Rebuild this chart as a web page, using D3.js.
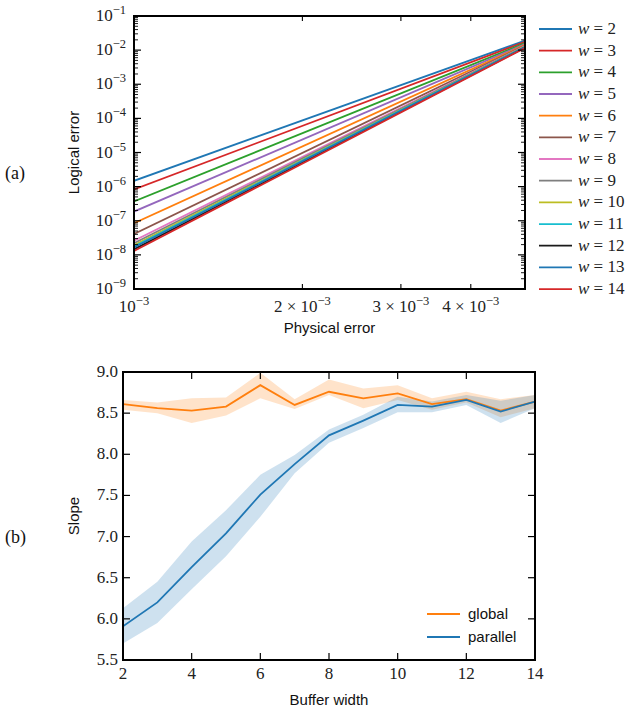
<!DOCTYPE html>
<html><head><meta charset="utf-8">
<script src="https://cdn.jsdelivr.net/npm/d3@7"></script>
<style>body{margin:0;background:#fff}svg{display:block}</style>
</head><body><svg id="c" width="629" height="709"></svg>
<script>
// ---------- data (a) ----------
const physErr = [0.001, 0.005];
const widths = [2,3,4,5,6,7,8,9,10,11,12,13,14];
const logicalErrLow  = [1.48e-6, 8.3e-7, 3.7e-7, 1.86e-7, 8.5e-8, 4.1e-8, 2.6e-8, 2.2e-8, 1.9e-8, 1.76e-8, 1.45e-8, 1.64e-8, 1.3e-8];
const logicalErrHigh = [1.9e-2, 1.75e-2, 1.6e-2, 1.5e-2, 1.42e-2, 1.36e-2, 1.31e-2, 1.28e-2, 1.26e-2, 1.24e-2, 1.2e-2, 1.22e-2, 1.16e-2];
const wColors = ["#1f77b4","#d62728","#2ca02c","#9467bd","#ff7f0e","#8c564b","#e377c2","#7f7f7f","#bcbd22","#17becf","#1a1a1a","#1f77b4","#d62728"];
const yTickExp = [-1,-2,-3,-4,-5,-6,-7,-8,-9];
const xTickLabels = [{v:0.001,m:null,e:-3},{v:0.002,m:2,e:-3},{v:0.003,m:3,e:-3},{v:0.004,m:4,e:-3}];

// ---------- data (b) ----------
const buffer = [2,3,4,5,6,7,8,9,10,11,12,13,14];
const globalSlope = [8.61,8.56,8.53,8.58,8.84,8.60,8.76,8.68,8.74,8.61,8.67,8.53,8.64];
const globalLo    = [8.54,8.50,8.38,8.47,8.68,8.55,8.72,8.56,8.66,8.54,8.63,8.45,8.56];
const globalHi    = [8.66,8.63,8.68,8.69,8.99,8.67,8.91,8.80,8.84,8.68,8.76,8.67,8.72];
const parallelSlope = [5.91,6.20,6.63,7.04,7.51,7.88,8.23,8.41,8.60,8.58,8.66,8.52,8.64];
const parallelLo    = [5.70,5.95,6.36,6.76,7.24,7.77,8.14,8.32,8.51,8.51,8.60,8.38,8.56];
const parallelHi    = [6.13,6.45,6.94,7.32,7.75,7.99,8.30,8.48,8.70,8.64,8.72,8.65,8.72];
const slopeTicks = [5.5,6.0,6.5,7.0,7.5,8.0,8.5,9.0];
const bufferTicks = [2,4,6,8,10,12,14];

const svg = d3.select("#c");
const SERIF = "'Liberation Serif','DejaVu Serif',serif";
const SANS = "'Liberation Sans',Arial,sans-serif";
const TFS = 17, SUP = 12.5;

// ================= (a) =================
const A = {l:134, r:525, t:16, b:289};
const xA = d3.scaleLog().domain([0.001,0.005]).range([A.l,A.r]);
const yA = d3.scaleLog().domain([1e-9,1e-1]).range([A.b,A.t]);
const gA = svg.append("g");

const defs = svg.append("defs");
defs.append("clipPath").attr("id","clipA").append("rect").attr("x",A.l).attr("y",A.t).attr("width",A.r-A.l).attr("height",A.b-A.t);
defs.append("clipPath").attr("id","clipB").append("rect").attr("x",123).attr("y",372).attr("width",412).attr("height",288);

const lineA = d3.line().x(d=>xA(d[0])).y(d=>yA(d[1]));
const linesG = gA.append("g").attr("clip-path","url(#clipA)");
widths.forEach((w,i)=>{
  const pts = [[physErr[0],logicalErrLow[i]],[physErr[1],logicalErrHigh[i]]];
  linesG.append("path").attr("d",lineA(pts)).attr("fill","none").attr("stroke",wColors[i]).attr("stroke-width",1.8);
});

const yMinor = [];
for (let e=-9;e<-1;e++) for (let m=2;m<=9;m++) yMinor.push(m*Math.pow(10,e));
const yMajor = yTickExp.map(e=>Math.pow(10,e));
const tk = gA.append("g").attr("stroke","#000");
yMajor.forEach(v=>{
  tk.append("line").attr("x1",A.l).attr("x2",A.l+7).attr("y1",yA(v)).attr("y2",yA(v)).attr("stroke-width",1.2);
  tk.append("line").attr("x1",A.r).attr("x2",A.r-7).attr("y1",yA(v)).attr("y2",yA(v)).attr("stroke-width",1.2);
});
yMinor.forEach(v=>{
  tk.append("line").attr("x1",A.l).attr("x2",A.l+4).attr("y1",yA(v)).attr("y2",yA(v)).attr("stroke-width",0.9);
  tk.append("line").attr("x1",A.r).attr("x2",A.r-4).attr("y1",yA(v)).attr("y2",yA(v)).attr("stroke-width",0.9);
});
xTickLabels.forEach(t=>{
  const len = t.m===null?7:5;
  tk.append("line").attr("x1",xA(t.v)).attr("x2",xA(t.v)).attr("y1",A.b).attr("y2",A.b-len).attr("stroke-width",1.1);
  tk.append("line").attr("x1",xA(t.v)).attr("x2",xA(t.v)).attr("y1",A.t).attr("y2",A.t+len).attr("stroke-width",1.1);
});
yTickExp.forEach(e=>{
  const t = gA.append("text").attr("x",A.l-8).attr("y",yA(Math.pow(10,e))+5)
    .attr("text-anchor","end").attr("font-family",SERIF).attr("font-size",TFS).attr("fill","#222");
  t.append("tspan").text("10");
  t.append("tspan").attr("dy",-7).attr("font-size",SUP).text("\u2212"+(-e));
});
xTickLabels.forEach(t=>{
  const el = gA.append("text").attr("x",xA(t.v)).attr("y",A.b+23)
    .attr("text-anchor","middle").attr("font-family",SERIF).attr("font-size",TFS).attr("fill","#222");
  el.append("tspan").text(t.m===null?"10":(t.m+" \u00d7 10"));
  el.append("tspan").attr("dy",-7).attr("font-size",SUP).text("\u2212"+(-t.e));
});
gA.append("rect").attr("x",A.l).attr("y",A.t).attr("width",A.r-A.l).attr("height",A.b-A.t)
  .attr("fill","none").attr("stroke","#000").attr("stroke-width",2);
gA.append("text").attr("x",(A.l+A.r)/2).attr("y",333).attr("text-anchor","middle")
  .attr("font-family",SANS).attr("font-size",15).attr("fill","#111").text("Physical error");
gA.append("text").attr("transform",`translate(79,${(A.t+A.b)/2}) rotate(-90)`).attr("text-anchor","middle")
  .attr("font-family",SANS).attr("font-size",15).attr("fill","#111").text("Logical error");
svg.append("text").attr("x",5).attr("y",179).attr("font-family",SERIF).attr("font-size",18).attr("fill","#111").text("(a)");

const legY0 = 29, legDy = 21.67;
widths.forEach((w,i)=>{
  const y = legY0 + i*legDy;
  gA.append("line").attr("x1",539).attr("x2",572).attr("y1",y).attr("y2",y).attr("stroke",wColors[i]).attr("stroke-width",1.8);
  const t = gA.append("text").attr("x",578).attr("y",y+5).attr("font-family",SERIF).attr("font-size",TFS).attr("fill","#222");
  t.append("tspan").attr("font-style","italic").text("w");
  t.append("tspan").text(" = "+w);
});

// ================= (b) =================
const B = {l:123, r:535, t:372, b:660};
const xB = d3.scaleLinear().domain([2,14]).range([B.l,B.r]);
const yB = d3.scaleLinear().domain([5.5,9.0]).range([B.b,B.t]);
const gB = svg.append("g");
const bandsG = gB.append("g").attr("clip-path","url(#clipB)");
const area = (lo,hi)=>d3.area().x((d,i)=>xB(buffer[i])).y0((d,i)=>yB(lo[i])).y1((d,i)=>yB(hi[i]))(buffer);
const line = (vals)=>d3.line().x((d,i)=>xB(buffer[i])).y((d,i)=>yB(vals[i]))(buffer);
bandsG.append("path").attr("d",area(globalLo,globalHi)).attr("fill","#ff7f0e").attr("fill-opacity",0.22);
bandsG.append("path").attr("d",area(parallelLo,parallelHi)).attr("fill","#1f77b4").attr("fill-opacity",0.22);
bandsG.append("path").attr("d",line(globalSlope)).attr("fill","none").attr("stroke","#ff7f0e").attr("stroke-width",1.8);
bandsG.append("path").attr("d",line(parallelSlope)).attr("fill","none").attr("stroke","#1f77b4").attr("stroke-width",1.8);

const tkB = gB.append("g").attr("stroke","#000").attr("stroke-width",1.2);
slopeTicks.forEach(v=>{
  tkB.append("line").attr("x1",B.l).attr("x2",B.l+7).attr("y1",yB(v)).attr("y2",yB(v));
  tkB.append("line").attr("x1",B.r).attr("x2",B.r-7).attr("y1",yB(v)).attr("y2",yB(v));
  gB.append("text").attr("x",B.l-5).attr("y",yB(v)+5).attr("text-anchor","end")
    .attr("font-family",SERIF).attr("font-size",TFS).attr("fill","#222").text(v.toFixed(1));
});
bufferTicks.forEach(v=>{
  tkB.append("line").attr("x1",xB(v)).attr("x2",xB(v)).attr("y1",B.b).attr("y2",B.b-7);
  tkB.append("line").attr("x1",xB(v)).attr("x2",xB(v)).attr("y1",B.t).attr("y2",B.t+7);
  gB.append("text").attr("x",xB(v)).attr("y",B.b+19).attr("text-anchor","middle")
    .attr("font-family",SERIF).attr("font-size",TFS).attr("fill","#222").text(v);
});
gB.append("rect").attr("x",B.l).attr("y",B.t).attr("width",B.r-B.l).attr("height",B.b-B.t)
  .attr("fill","none").attr("stroke","#000").attr("stroke-width",2);
gB.append("text").attr("x",(B.l+B.r)/2).attr("y",705).attr("text-anchor","middle")
  .attr("font-family",SANS).attr("font-size",15).attr("fill","#111").text("Buffer width");
gB.append("text").attr("transform",`translate(79,${(B.t+B.b)/2}) rotate(-90)`).attr("text-anchor","middle")
  .attr("font-family",SANS).attr("font-size",15).attr("fill","#111").text("Slope");
svg.append("text").attr("x",5).attr("y",543).attr("font-family",SERIF).attr("font-size",18).attr("fill","#111").text("(b)");

[["global","#ff7f0e",614],["parallel","#1f77b4",637]].forEach(([name,col,y])=>{
  gB.append("line").attr("x1",427).attr("x2",460).attr("y1",y).attr("y2",y).attr("stroke",col).attr("stroke-width",1.8);
  gB.append("text").attr("x",468).attr("y",y+5).attr("font-family",SANS).attr("font-size",15).attr("fill","#111").text(name);
});
</script></body></html>
